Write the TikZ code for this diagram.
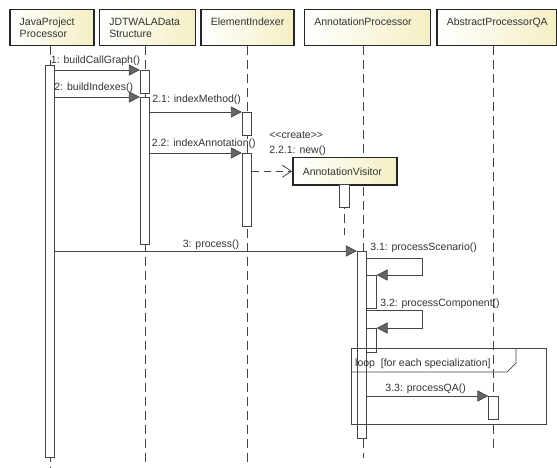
\documentclass[tikz,border=0pt]{standalone}
\usepackage{fontspec}
\setmainfont{Liberation Sans}
\usetikzlibrary{arrows.meta,positioning}
\definecolor{headyellow}{HTML}{F4EFC4}
\definecolor{inkgray}{HTML}{333333}
\definecolor{linegray}{HTML}{444444}

\begin{document}
\begin{tikzpicture}[x=1pt, y=-1pt,
  font=\fontsize{10.5}{11.5}\selectfont, text=inkgray,
  headbox/.style={rectangle, draw=black!85, line width=1.5pt,
    left color=white, right color=headyellow, anchor=north west,
    text width=#1, align=left, inner xsep=10pt},
  lifehead/.style={headbox=#1, inner ysep=6pt, text height=10pt, text depth=14pt},
  act/.style={rectangle, draw=linegray, line width=0.7pt, fill=white,
    minimum width=9.5pt, minimum height=#1, inner sep=0pt, anchor=north},
  lifeline/.style={draw=linegray, line width=0.7pt, dash pattern=on 9pt off 5pt},
  msg/.style={draw=linegray, line width=0.7pt,
    -{Triangle[length=11pt, width=11pt, fill=black!60]}},
  create/.style={draw=linegray, line width=0.7pt, dash pattern=on 7pt off 5pt,
    -{Straight Barb[length=9pt, width=12pt]}},
  lbl/.style={inner sep=0pt, anchor=base west},
  loopline/.style={draw=linegray, line width=0.7pt}
]
\fill[white] (0,0) rectangle (557,468);
\useasboundingbox (0,0) rectangle (557,468);

\node[lifehead=64pt] (jpH) at (9,9) {JavaProject\\Processor};
\node[lifehead=76pt, right=4pt of jpH] (dwH) {JDTWALAData\\Structure};
\node[lifehead=73pt, right=4pt of dwH] (eiH) {ElementIndexer};
\node[lifehead=106pt, right=9pt of eiH] (apH) {AnnotationProcessor};
\node[lifehead=100pt, right=5pt of apH] (aqH) {AbstractProcessorQA};

\coordinate (jpEnd) at (50,467);
\coordinate (dwEnd) at (145,462);
\coordinate (eiEnd) at (247,462);
\coordinate (apEnd) at (363,458);
\coordinate (aqEnd) at (493,450);
\coordinate (avEnd) at (344.5,235);

\draw[lifeline] (jpH.south -| jpEnd) -- (jpEnd);
\draw[lifeline] (dwH.south -| dwEnd) -- (dwEnd);
\draw[lifeline] (eiH.south -| eiEnd) -- (eiEnd);
\draw[lifeline] (apH.south -| apEnd) -- (apEnd);
\draw[lifeline] (aqH.south -| aqEnd) -- (aqEnd);

\node[headbox=84pt, minimum height=27pt] (avH) at (292,157) {AnnotationVisitor};
\draw[lifeline] (avH.south -| avEnd) -- (avEnd);

\node[act=392] (jpA) at (50,65) {};
\node[act=23] (dwA1) at (145,70) {};
\node[act=147] (dwA2) at (145,97) {};
\node[act=23] (eiA1) at (247,112) {};
\node[act=73] (eiA2) at (247,153) {};
\node[act=23] (avA) at (344.5,184) {};
\node[act=187] (apA) at (362,251) {};
\node[act=33] (apN1) at (371.5,275) {};
\node[act=24] (apN2) at (371.5,328) {};
\node[act=23] (aqA) at (493.5,396) {};

\draw[msg] (jpA.east |- dwA1.north) -- (dwA1.north west)
  node[lbl, at start, xshift=-4.5pt, yshift=6pt] {1: buildCallGraph()};
\draw[msg] (jpA.east |- dwA2.north) -- (dwA2.north west)
  node[lbl, at start, xshift=-1pt, yshift=6pt] {2: buildIndexes()};
\draw[msg] (dwA2.east |- eiA1.north) -- (eiA1.north west)
  node[lbl, at start, xshift=2pt, yshift=9pt] {2.1: indexMethod()};
\draw[msg] (dwA2.east |- eiA2.north) -- (eiA2.north west)
  node[lbl, at start, xshift=1.5pt, yshift=6pt] {2.2: indexAnnotation()};
\draw[create] (eiA2.east |- avH.west) -- (avH.west)
  node[lbl, at end, xshift=-23pt, yshift=32.5pt] {<\kern0pt<create>\kern0pt>}
  node[lbl, at end, xshift=-23pt, yshift=17.5pt] {2.2.1: new()};
\draw[msg] (jpA.east |- apA.north) -- (apA.north west)
  node[lbl, anchor=base, midway, xshift=5pt, yshift=4pt] {3: process()};
\draw[msg] ([yshift=17pt]apN1.north west)
  node[lbl, xshift=3.5pt, yshift=8pt] {3.1: processScenario()}
  -- ++(56,0) |- (apN1.north east);
\draw[msg] ([yshift=18pt]apN2.north west)
  node[lbl, xshift=13.5pt, yshift=4pt] {3.2: processComponent()}
  -- ++(56,0) |- (apN2.north east);

\node[loopline, rectangle, minimum width=195pt, minimum height=76pt,
  inner sep=0pt, anchor=north west] (loopF) at (351,348) {};
\draw[loopline] ([xshift=165pt]loopF.north west) -- ++(0,15) -- ++(-9,9)
  -- ([yshift=-24pt]loopF.north west);
\node[lbl] at ([shift={(4pt,-18pt)}]loopF.north west) {loop\ \ [for each specialization]};

\draw[msg] (apA.east |- aqA.north) -- (aqA.north west)
  node[lbl, at start, xshift=18pt, yshift=4.5pt] {3.3: processQA()};
\end{tikzpicture}
\end{document}
